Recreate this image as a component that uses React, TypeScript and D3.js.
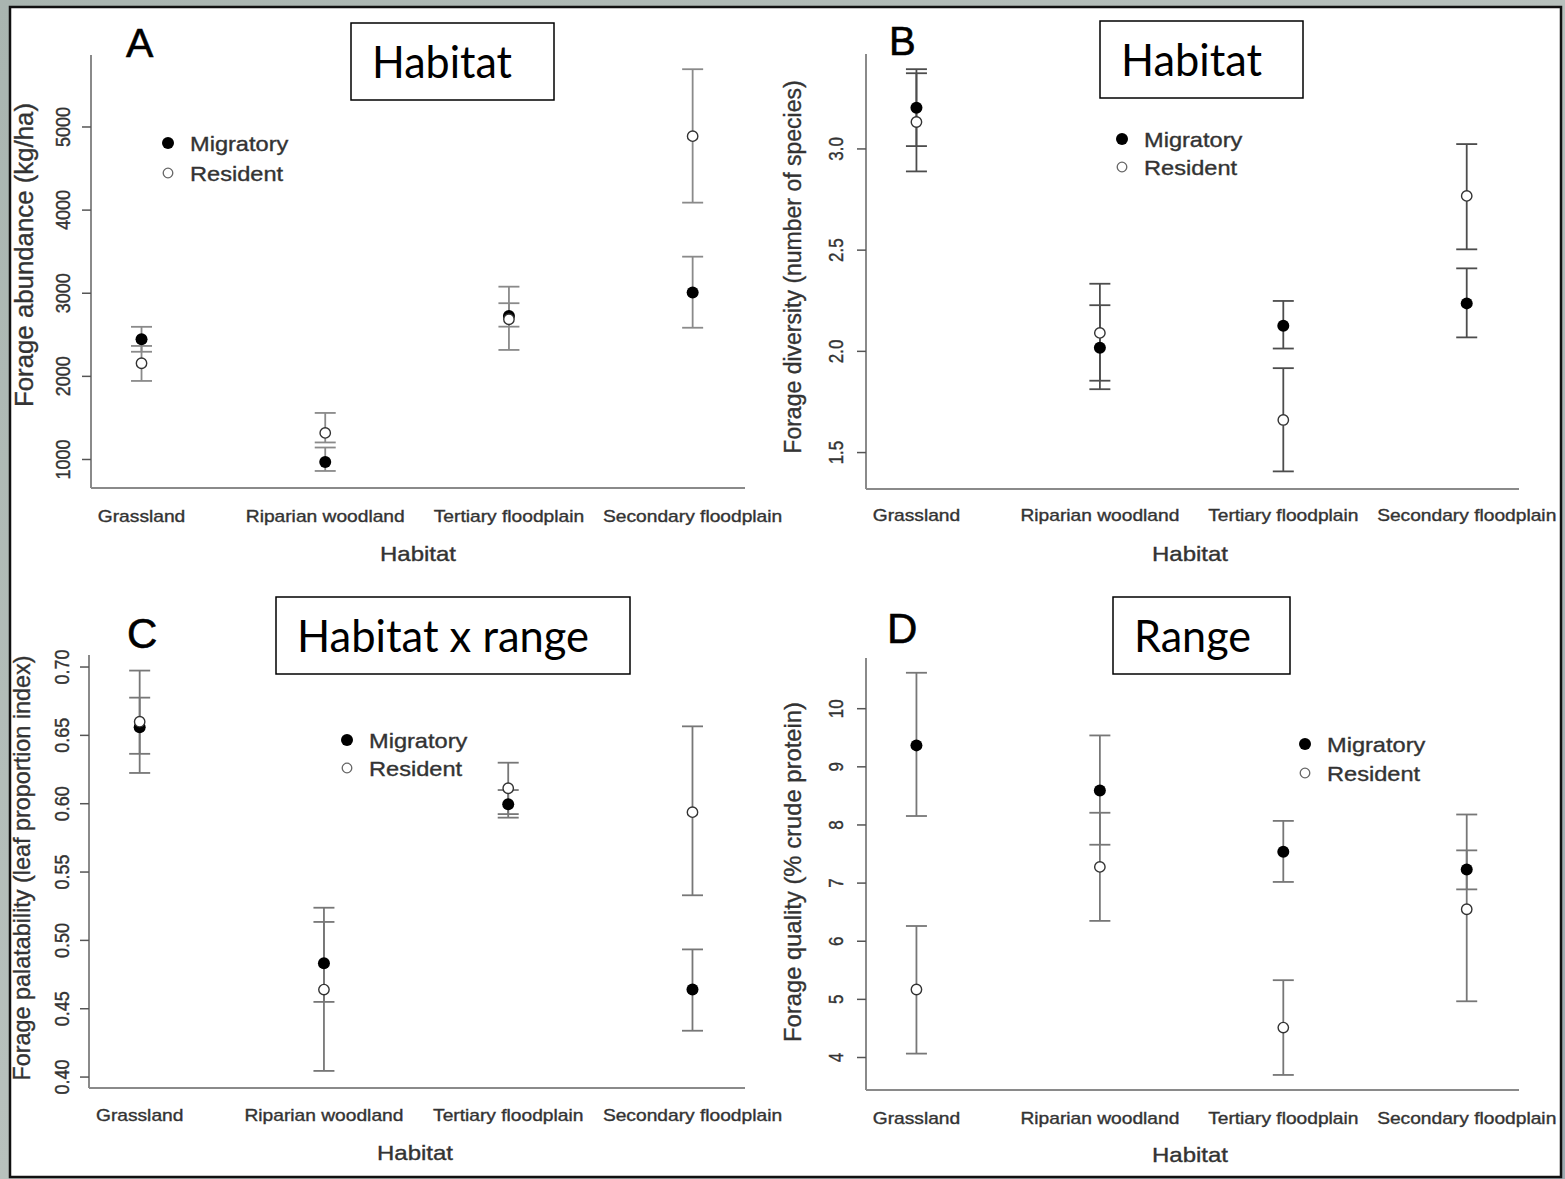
import React from 'react';
import * as d3 from 'd3';

// categories along the x axis (positions 1..4)
const categories = ['Grassland', 'Riparian woodland', 'Tertiary floodplain', 'Secondary floodplain'];
const positions = [1, 2, 3, 4];

// A - forage abundance (kg/ha)
const abundanceMigratory = [2446, 970, 2727, 3010];
const abundanceMigratoryLow = [2296, 862, 2598, 2585];
const abundanceMigratoryHigh = [2596, 1144, 2880, 3440];
const abundanceResident = [2158, 1320, 2687, 4890];
const abundanceResidentLow = [1945, 1205, 2318, 4090];
const abundanceResidentHigh = [2366, 1560, 3079, 5695];
const abundanceTicks = [1000, 2000, 3000, 4000, 5000];

// B - forage diversity (number of species)
const diversityMigratory = [3.204, 2.018, 2.127, 2.237];
const diversityMigratoryLow = [3.014, 1.813, 2.014, 2.069];
const diversityMigratoryHigh = [3.394, 2.228, 2.249, 2.41];
const diversityResident = [3.133, 2.091, 1.661, 2.768];
const diversityResidentLow = [2.889, 1.855, 1.407, 2.504];
const diversityResidentHigh = [3.374, 2.334, 1.917, 3.024];
const diversityTicks = [1.5, 2.0, 2.5, 3.0];

// C - forage palatability (leaf proportion index)
const palatabilityMigratory = [0.656, 0.4833, 0.5996, 0.464];
const palatabilityMigratoryLow = [0.6365, 0.455, 0.5898, 0.4339];
const palatabilityMigratoryHigh = [0.6776, 0.5135, 0.61, 0.4934];
const palatabilityResident = [0.66, 0.464, 0.6113, 0.5938];
const palatabilityResidentLow = [0.6225, 0.4045, 0.5924, 0.533];
const palatabilityResidentHigh = [0.6974, 0.5239, 0.63, 0.6566];
const palatabilityTicks = [0.4, 0.45, 0.5, 0.55, 0.6, 0.65, 0.7];

// D - forage quality (% crude protein)
const qualityMigratory = [9.369, 8.593, 7.54, 7.234];
const qualityMigratoryLow = [8.154, 7.66, 7.02, 6.892];
const qualityMigratoryHigh = [10.618, 9.54, 8.07, 7.563];
const qualityResident = [5.17, 7.279, 4.515, 6.55];
const qualityResidentLow = [4.067, 6.35, 3.7, 4.967];
const qualityResidentHigh = [6.262, 8.21, 5.33, 8.18];
const qualityTicks = [4, 5, 6, 7, 8, 9, 10];

const legendLabels = ['Migratory', 'Resident'];

const panels = [
  {
    letter: 'A', note: 'Habitat', yTitle: 'Forage abundance (kg/ha)', xTitle: 'Habitat',
    mig: abundanceMigratory, migLo: abundanceMigratoryLow, migHi: abundanceMigratoryHigh,
    res: abundanceResident, resLo: abundanceResidentLow, resHi: abundanceResidentHigh,
    ticks: abundanceTicks, fmt: d3.format('d'), yDomain: [657, 5866],
    // layout
    x0: 91, x1: 745, yTop: 55, yBot: 488, barColor: '#8a8a8a',
    letterPos: [126, 57, 41], box: [351, 23, 203, 77], notePos: [372, 78, 140],
    legend: [168, 143, 30], xTickY: 522, xTitlePos: [418, 561], yTickX: 70, tickSize: 18,
    yTitlePos: [33, 255, 25.8],
  },
  {
    letter: 'B', note: 'Habitat', yTitle: 'Forage diversity (number of species)', xTitle: 'Habitat',
    mig: diversityMigratory, migLo: diversityMigratoryLow, migHi: diversityMigratoryHigh,
    res: diversityResident, resLo: diversityResidentLow, resHi: diversityResidentHigh,
    ticks: diversityTicks, fmt: d3.format('.1f'), yDomain: [1.32, 3.469],
    x0: 866, x1: 1519, yTop: 54, yBot: 489, barColor: '#4d4d4d',
    letterPos: [889, 55, 40], box: [1100, 21, 203, 77], notePos: [1121, 76, 141],
    legend: [1122, 139, 28], xTickY: 521, xTitlePos: [1190, 561], yTickX: 843, tickSize: 17,
    yTitlePos: [801, 267, 23],
  },
  {
    letter: 'C', note: 'Habitat x range', yTitle: 'Forage palatability (leaf proportion index)', xTitle: 'Habitat',
    mig: palatabilityMigratory, migLo: palatabilityMigratoryLow, migHi: palatabilityMigratoryHigh,
    res: palatabilityResident, resLo: palatabilityResidentLow, resHi: palatabilityResidentHigh,
    ticks: palatabilityTicks, fmt: d3.format('.2f'), yDomain: [0.392, 0.7088],
    x0: 89, x1: 745, yTop: 655, yBot: 1088, barColor: '#777777',
    letterPos: [127, 648, 42], box: [276, 597, 354, 77], notePos: [297, 652, 292],
    legend: [347, 740, 28], xTickY: 1121, xTitlePos: [415, 1160], yTickX: 69, tickSize: 18,
    yTitlePos: [30, 868, 23.4],
  },
  {
    letter: 'D', note: 'Range', yTitle: 'Forage quality (% crude protein)', xTitle: 'Habitat',
    mig: qualityMigratory, migLo: qualityMigratoryLow, migHi: qualityMigratoryHigh,
    res: qualityResident, resLo: qualityResidentLow, resHi: qualityResidentHigh,
    ticks: qualityTicks, fmt: d3.format('d'), yDomain: [3.441, 10.872],
    x0: 866, x1: 1519, yTop: 658, yBot: 1090, barColor: '#777777',
    letterPos: [887, 643, 42], box: [1113, 597, 177, 77], notePos: [1134, 652, 117],
    legend: [1305, 744, 29], xTickY: 1124, xTitlePos: [1190, 1162], yTickX: 843, tickSize: 17,
    yTitlePos: [801, 872, 23.8],
  },
];

const R_FONT = "'Liberation Sans', Arial, Helvetica, sans-serif";
const NOTE_FONT = "Lato, 'Open Sans', sans-serif";
const STRETCH = 1.2; // the panels were pasted in slightly widened
const TEXT = '#333';
const CAP = 10.5;
// the source is an upscaled raster, so its type reads a little heavier
const heavy = { stroke: TEXT, strokeWidth: 0.35 };

const Panel = ({ p }: { p: any }) => {
  const x = d3.scaleLinear().domain([0.725, 4.285]).range([p.x0, p.x1]);
  const y = d3.scaleLinear().domain(p.yDomain).range([p.yBot, p.yTop]);

  const bar = (i: number, lo: number, hi: number, k: string) => {
    const cx = x(positions[i]);
    return (
      <g key={k} stroke={p.barColor} strokeWidth={1.8}>
        <line x1={cx} x2={cx} y1={y(lo)} y2={y(hi)} />
        <line x1={cx - CAP} x2={cx + CAP} y1={y(lo)} y2={y(lo)} />
        <line x1={cx - CAP} x2={cx + CAP} y1={y(hi)} y2={y(hi)} />
      </g>
    );
  };

  const [lx, ly, lgap] = p.legend;

  return (
    <g>
      {/* axes, L-shaped as in R's bty="l" */}
      <line x1={p.x0} x2={p.x0} y1={p.yTop} y2={p.yBot} stroke="#8a8a8a" strokeWidth={2} />
      <line x1={p.x0} x2={p.x1} y1={p.yBot} y2={p.yBot} stroke="#8a8a8a" strokeWidth={2} />
      {p.ticks.map((t: number) => (
        <g key={t}>
          <line x1={p.x0 - 9} x2={p.x0} y1={y(t)} y2={y(t)} stroke="#555" strokeWidth={1.5} />
          <text
            transform={`translate(${p.yTickX},${y(t)}) scale(1.15,1) rotate(-90)`}
            textAnchor="middle" fontSize={p.tickSize} fontFamily={R_FONT} fill={TEXT} {...heavy}
          >{p.fmt(t)}</text>
        </g>
      ))}
      {categories.map((c, i) => (
        <text key={c}
          transform={`translate(${x(positions[i])},${p.xTickY}) scale(${STRETCH},1)`}
          textAnchor="middle" fontSize={16} fontFamily={R_FONT} fill={TEXT} {...heavy}
        >{c}</text>
      ))}
      <text transform={`translate(${p.xTitlePos[0]},${p.xTitlePos[1]}) scale(${STRETCH},1)`}
        textAnchor="middle" fontSize={20} fontFamily={R_FONT} fill={TEXT} {...heavy}>{p.xTitle}</text>
      <text transform={`translate(${p.yTitlePos[0]},${p.yTitlePos[1]}) rotate(-90)`}
        textAnchor="middle" fontSize={p.yTitlePos[2]} fontFamily={R_FONT} fill={TEXT} {...heavy}>{p.yTitle}</text>

      {/* error bars then means */}
      {positions.map((_, i) => bar(i, p.migLo[i], p.migHi[i], 'm' + i))}
      {positions.map((_, i) => bar(i, p.resLo[i], p.resHi[i], 'r' + i))}
      {positions.map((_, i) => (
        <circle key={'mp' + i} cx={x(positions[i])} cy={y(p.mig[i])} r={6} fill="#000" />
      ))}
      {positions.map((_, i) => (
        <circle key={'rp' + i} cx={x(positions[i])} cy={y(p.res[i])} r={5.2}
          fill="#fff" stroke="#333" strokeWidth={1.4} />
      ))}

      {/* legend */}
      <circle cx={lx} cy={ly} r={6} fill="#000" />
      <circle cx={lx} cy={ly + lgap} r={4.8} fill="#fff" stroke="#666" strokeWidth={1.3} />
      {legendLabels.map((l, i) => (
        <text key={l} transform={`translate(${lx + 22},${ly + i * lgap + 7.5}) scale(1.18,1)`}
          fontSize={20} fontFamily={R_FONT} fill={TEXT} {...heavy}>{l}</text>
      ))}

      {/* panel letter and annotation box */}
      <text x={p.letterPos[0]} y={p.letterPos[1]} fontSize={p.letterPos[2]} fontFamily={R_FONT}
        fill="#000" stroke="#000" strokeWidth={0.6}>
        {p.letter}
      </text>
      <rect x={p.box[0]} y={p.box[1]} width={p.box[2]} height={p.box[3]} fill="#fff" stroke="#000" strokeWidth={1.5} />
      <text x={p.notePos[0]} y={p.notePos[1]} textLength={p.notePos[2]} lengthAdjust="spacingAndGlyphs"
        fontSize={45} fontFamily={NOTE_FONT} fill="#000">{p.note}</text>
    </g>
  );
};

export default function App() {
  return (
    <svg width={1565} height={1179} style={{ position: 'absolute', left: 0, top: 0 }}>
      <defs>
        <linearGradient id="bg" x1="0" y1="0" x2="1" y2="1">
          <stop offset="0" stopColor="#a9b5b0" />
          <stop offset="0.5" stopColor="#b8c1bd" />
          <stop offset="1" stopColor="#9eaab0" />
        </linearGradient>
      </defs>
      <rect width={1565} height={1179} fill="url(#bg)" />
      <rect x={10} y={7} width={1551} height={1170} fill="#fff" stroke="#111" strokeWidth={2.5} />
      {panels.map(p => <Panel key={p.letter} p={p} />)}
    </svg>
  );
}
